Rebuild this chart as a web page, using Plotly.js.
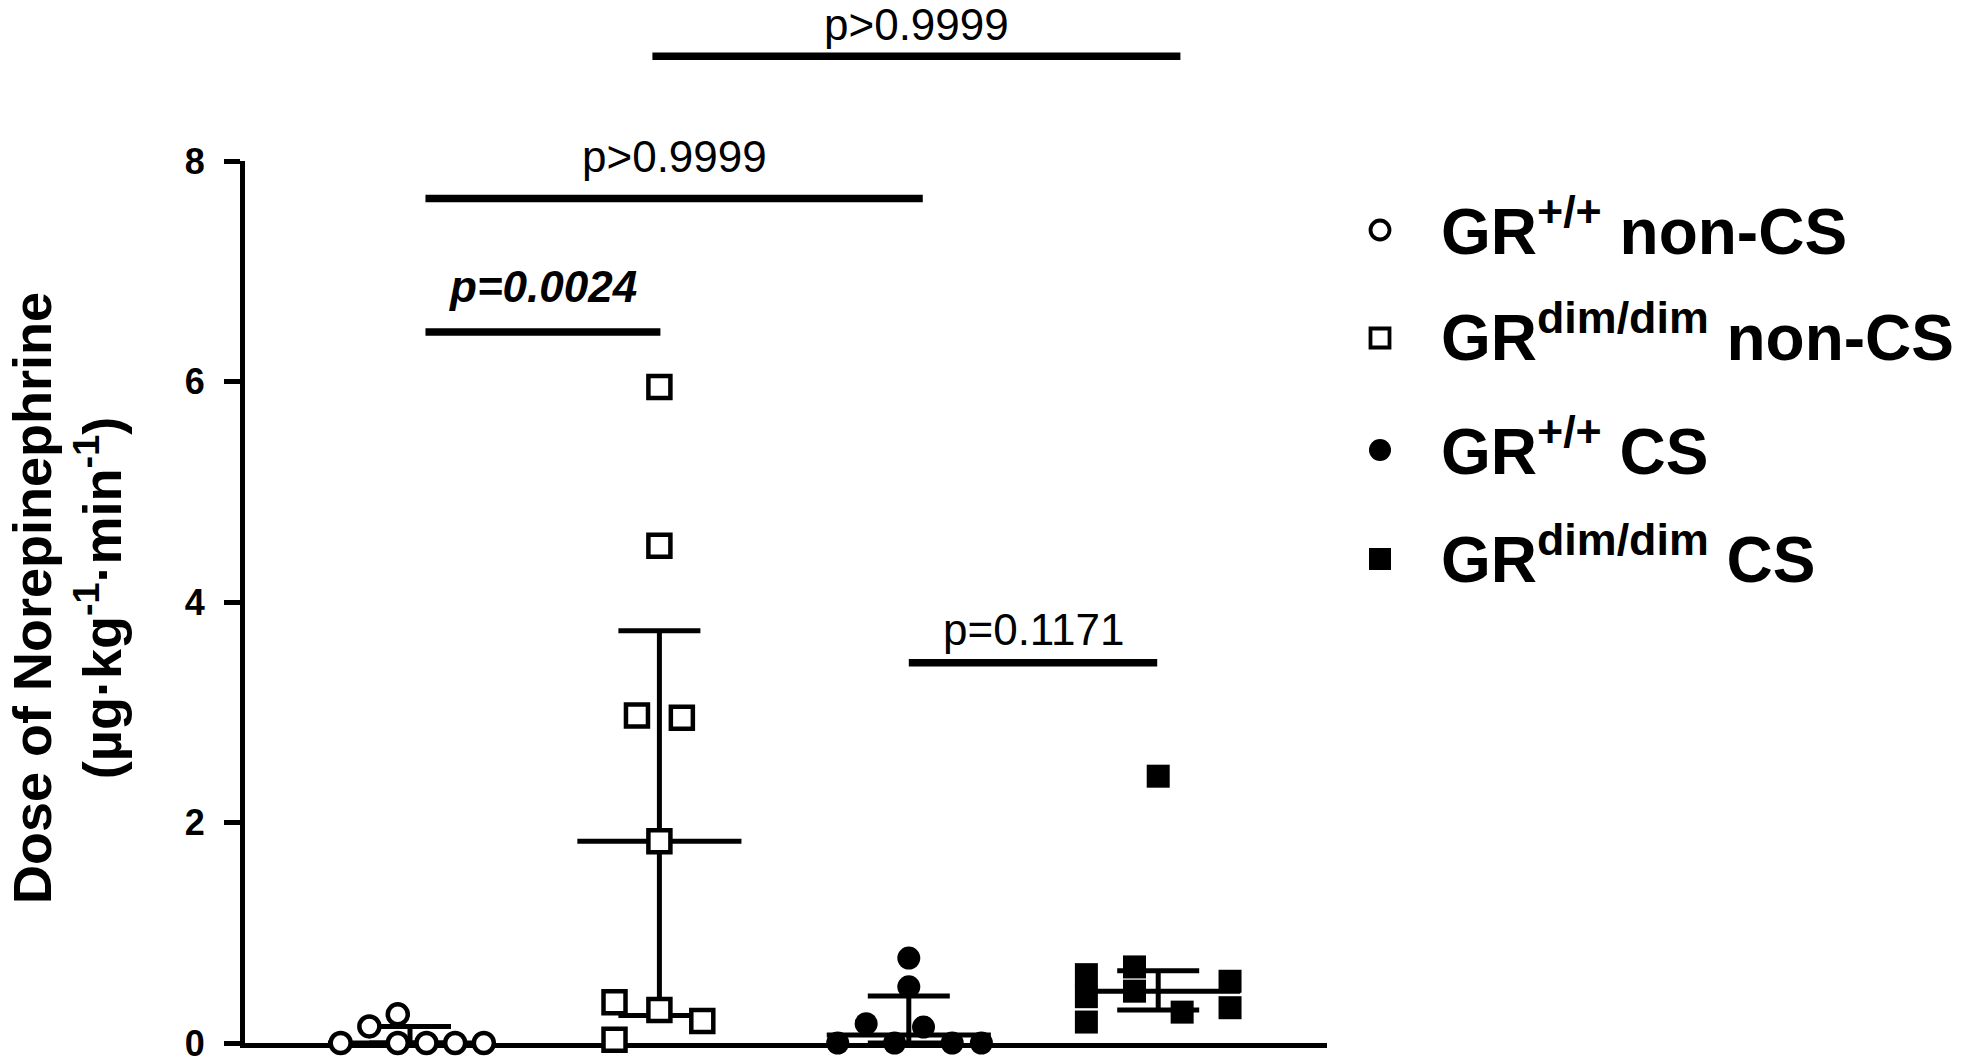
<!DOCTYPE html>
<html>
<head>
<meta charset="utf-8">
<script src="https://cdn.plot.ly/plotly-3.0.1.min.js"></script>
<style>
  html, body { margin: 0; padding: 0; background: #ffffff; }
  #chart { width: 1969px; height: 1064px; }
</style>
</head>
<body>
<div id="chart"></div>
<script>
// ---------------- data ----------------
const groupNames = [
  "GR<sup>+/+</sup> non-CS",
  "GR<sup>dim/dim</sup> non-CS",
  "GR<sup>+/+</sup> CS",
  "GR<sup>dim/dim</sup> CS"
];
const wtNonCS  = [0, 0.15, 0.26, 0, 0, 0, 0];
const dimNonCS = [0.03, 0.37, 0.30, 0.20, 1.83, 2.97, 2.95, 4.51, 5.95];
const wtCS     = [0, 0.175, 0, 0.77, 0.51, 0.145, 0, 0];
const dimCS    = [0.19, 0.42, 0.62, 0.47, 0.69, 0.28, 2.42, 0.32, 0.56];

// horizontal scatter of the dots inside each column (fraction of column spacing)
const wtNonCSSpread  = [-0.278, -0.163, -0.049, -0.049, 0.066, 0.181, 0.296];
const dimNonCSSpread = [-0.18, -0.18, 0, 0.172, 0, -0.09, 0.09, 0, 0];
const wtCSSpread     = [-0.285, -0.171, -0.057, 0, 0, 0.059, 0.174, 0.291];
const dimCSSpread    = [-0.288, -0.288, -0.288, -0.095, -0.095, 0.096, 0, 0.288, 0.288];

const yTickVals = [0, 2, 4, 6, 8];

// pairwise comparisons
const pLabels = ["<b><i>p=0.0024</i></b>", "p>0.9999", "p>0.9999", "p=0.1171"];
const pFrom   = [1, 1, 2, 3];
const pTo     = [2, 3, 4, 4];

// ---------------- geometry / style ----------------
const W = 1969, H = 1064;
const M = { l: 245, r: 642, t: 161, b: 21 };
const PW = W - M.l - M.r, PH = H - M.t - M.b;
const FONT = "Liberation Sans, Arial, Helvetica, sans-serif";
const X_RANGE = [0.3384, 4.6768];
const Y_RANGE = [0, 8];

function pxToPaperX(px) { return (px - M.l) / PW; }
function pxToPaperY(py) { return (H - M.b - py) / PH; }

// bracket drawing parameters (x in column units, level in y units, gap in px from line to text baseline)
const bracketGeom = [
  { x0: 1.062, x1: 2.004, level: 6.45, gap: 29 },
  { x0: 1.062, x1: 3.056, level: 7.66, gap: 26 },
  { x0: 1.972, x1: 4.089, level: 8.95, gap: 16 },
  { x0: 3.000, x1: 3.996, level: 3.45, gap: 17 }
];

// ---------------- statistics (median + interquartile range, GraphPad style) ----------------
function quantile(sorted, p) {
  const n = sorted.length;
  const pos = p * (n + 1);
  if (pos <= 1) return sorted[0];
  if (pos >= n) return sorted[n - 1];
  const lo = Math.floor(pos), frac = pos - lo;
  return sorted[lo - 1] + frac * (sorted[lo] - sorted[lo - 1]);
}
function stats(vals) {
  const s = vals.slice().sort((a, b) => a - b);
  return { med: quantile(s, 0.5), q1: quantile(s, 0.25), q3: quantile(s, 0.75) };
}

const allValues = [wtNonCS, dimNonCS, wtCS, dimCS];
const allSpread = [wtNonCSSpread, dimNonCSSpread, wtCSSpread, dimCSSpread];
const centers = [1, 2, 3, 4];
const st = allValues.map(stats);

const MEDIAN_HALF = 0.329;

const medX = [], medY = [];
st.forEach((s, i) => {
  medX.push(centers[i] - MEDIAN_HALF, centers[i] + MEDIAN_HALF, null);
  medY.push(s.med, s.med, null);
});

const traces = [];
traces.push({
  type: "scatter", mode: "lines", x: medX, y: medY,
  line: { color: "#000", width: 5 }, hoverinfo: "skip", showlegend: false
});
traces.push({
  type: "scatter", mode: "markers",
  x: centers, y: st.map(s => s.med),
  marker: { size: 1, color: "rgba(0,0,0,0)" },
  error_y: {
    type: "data", symmetric: false,
    array: st.map(s => s.q3 - s.med),
    arrayminus: st.map(s => s.med - s.q1),
    color: "#000", thickness: 5, width: 41
  },
  hoverinfo: "skip", showlegend: false
});

const markerStyles = [
  { symbol: "circle", size: 20, color: "#fff", line: { color: "#000", width: 4.5 } },
  { symbol: "square", size: 22, color: "#fff", line: { color: "#000", width: 4.5 } },
  { symbol: "circle", size: 23, color: "#000", line: { color: "#000", width: 0 } },
  { symbol: "square", size: 23, color: "#000", line: { color: "#000", width: 0 } }
];

allValues.forEach((vals, i) => {
  traces.push({
    type: "scatter", mode: "markers",
    name: groupNames[i],
    x: vals.map((v, k) => centers[i] + allSpread[i][k]),
    y: vals,
    marker: markerStyles[i],
    cliponaxis: false,
    showlegend: false
  });
});

// ---------------- shapes & annotations ----------------
const shapes = [];
const annotations = [];

// significance bars
bracketGeom.forEach((g, i) => {
  const yp = g.level / (Y_RANGE[1] - Y_RANGE[0]);
  shapes.push({
    type: "line", xref: "x", yref: "paper",
    x0: g.x0, x1: g.x1, y0: yp, y1: yp,
    line: { color: "#000", width: 7.5 }
  });
  const fs = 44;
  annotations.push({
    xref: "x", yref: "paper",
    x: (g.x0 + g.x1) / 2, y: yp + (g.gap - 0.212 * fs - 1) / PH,
    xanchor: "center", yanchor: "bottom",
    text: pLabels[i], showarrow: false,
    font: { family: FONT, size: fs, color: "#000" }
  });
});

// y axis title
annotations.push({
  xref: "paper", yref: "paper",
  x: pxToPaperX(67), y: pxToPaperY(598),
  xanchor: "center", yanchor: "middle",
  textangle: -90, showarrow: false,
  text: "<b>Dose of Norepinephrine</b><br><b>(µg·kg<sup>-1</sup>·min<sup>-1</sup>)</b>",
  font: { family: FONT, size: 54, color: "#000" }
});

// legend
const legendBaselines = [255, 361, 475, 583];
const legendMarkY = [230, 338, 450, 559];
const legendMarkX = 1380;
const legendTextX = 1439;
const LFS = 64;
groupNames.forEach((nm, i) => {
  annotations.push({
    xref: "paper", yref: "paper",
    x: pxToPaperX(legendTextX), y: pxToPaperY(legendBaselines[i] + 0.212 * LFS + 1),
    xanchor: "left", yanchor: "bottom", showarrow: false,
    text: "<b>" + nm + "</b>",
    font: { family: FONT, size: LFS, color: "#000" }
  });
  const cy = legendMarkY[i];
  const ms = markerStyles[i];
  let half, lw, fill;
  if (i === 0) { half = 9.5; lw = 3.8; fill = "#fff"; }
  else if (i === 1) { half = 9.5; lw = 3.8; fill = "#fff"; }
  else if (i === 2) { half = 11; lw = 0; fill = "#000"; }
  else { half = 11; lw = 0; fill = "#000"; }
  shapes.push({
    type: ms.symbol === "circle" ? "circle" : "rect",
    xref: "paper", yref: "paper",
    x0: pxToPaperX(legendMarkX - half), x1: pxToPaperX(legendMarkX + half),
    y0: pxToPaperY(cy + half), y1: pxToPaperY(cy - half),
    fillcolor: fill,
    line: { color: "#000", width: lw }
  });
});

const layout = {
  width: W, height: H,
  margin: { l: M.l, r: M.r, t: M.t, b: M.b, pad: 0 },
  paper_bgcolor: "#fff", plot_bgcolor: "#fff",
  showlegend: false,
  font: { family: FONT, color: "#000" },
  xaxis: {
    range: X_RANGE, showline: true, linewidth: 5, linecolor: "#000",
    ticks: "", showticklabels: false, showgrid: false, zeroline: false,
    layer: "below traces", fixedrange: true
  },
  yaxis: {
    range: Y_RANGE, tickmode: "array", tickvals: yTickVals,
    ticktext: yTickVals.map(v => "<b>" + v + "</b>"),
    showline: true, linewidth: 5, linecolor: "#000",
    ticks: "outside", ticklen: 16, tickwidth: 5, tickcolor: "#000",
    tickfont: { family: FONT, size: 36, color: "#000" },
    ticklabelstandoff: 12,
    ticklabeloverflow: "allow",
    showgrid: false, zeroline: false, layer: "below traces", fixedrange: true
  },
  shapes: shapes,
  annotations: annotations
};

Plotly.newPlot("chart", traces, layout, { staticPlot: true, displayModeBar: false });
</script>
</body>
</html>
